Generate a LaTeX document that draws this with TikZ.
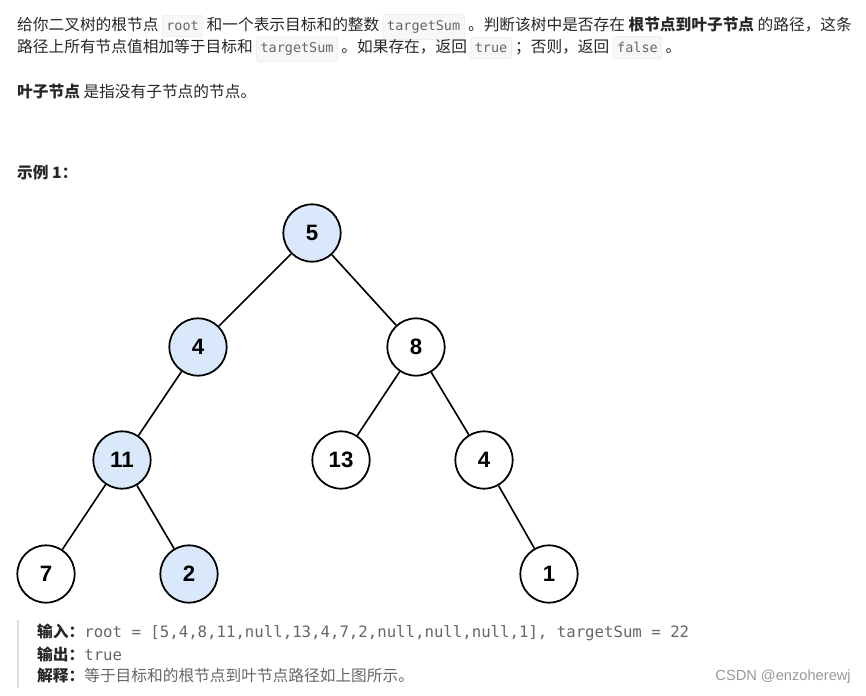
\documentclass[tikz,border=0pt]{standalone}
\usepackage{fontspec}
\usepackage{xcolor}
\setmainfont{Noto Sans CJK SC}
\newfontfamily\numfont{Liberation Sans}
\newfontfamily\codefont{DejaVu Sans Mono}
\newfontfamily\markfont{Liberation Sans}
\usetikzlibrary{positioning}
\definecolor{NodeBlue}{RGB}{218,232,252}
\definecolor{TextDark}{RGB}{38,38,38}
\definecolor{CodeGray}{RGB}{102,102,102}
\definecolor{CodeBg}{RGB}{247,247,247}
\definecolor{CodeLine}{RGB}{230,230,230}
\definecolor{QuoteBar}{RGB}{221,221,221}
\definecolor{MarkGray}{RGB}{153,153,153}
\tikzset{
  tnode/.style = {circle, draw, line width=1.5pt, minimum size=1.72cm, inner sep=0pt,
                  font=\numfont\bfseries\fontsize{19}{19}\selectfont},
  hl/.style    = {fill=NodeBlue},
  edge/.style  = {line width=1.4pt},
  para/.style  = {anchor=west, inner sep=0pt, text=TextDark,
                  font=\fontsize{13.4}{15}\selectfont}
}
\newcommand{\codebox}[1]{\tikz[baseline=(cb.base)]\node[draw=CodeLine, fill=CodeBg,
  rounded corners=2pt, inner xsep=3.5pt, inner ysep=5pt, text=CodeGray,
  font=\codefont\fontsize{11.5}{12}\selectfont] (cb) {#1};}

\begin{document}
\begin{tikzpicture}[x=0.03cm, y=-0.03cm]
\useasboundingbox (0,0) rectangle (866,695);
% problem text
\node[para] (l1) at (17,27) {给你二叉树的根节点 \codebox{root} 和一个表示目标和的整数 \codebox{targetSum} 。判断该树中是否存在 \textbf{根节点到叶子节点} 的路径，这条};
\node[para] (l2) at (17,49) {路径上所有节点值相加等于目标和 \codebox{targetSum} 。如果存在，返回 \codebox{true} ；否则，返回 \codebox{false} 。};
\node[para] (l3) at (17,92) {\textbf{叶子节点} 是指没有子节点的节点。};
\node[para] (ex) at (17,173) {\textbf{示例 1：}};
% tree
\node[tnode,hl] (n5)  at (312,233) {5};
\node[tnode,hl] (n4)  at (198,347) {4};
\node[tnode]    (n8)  at (416,347) {8};
\node[tnode,hl] (n11) at (122,460) {11};
\node[tnode]    (n13) at (341,460) {13};
\node[tnode]    (n4r) at (484,460) {4};
\node[tnode]    (n7)  at (46,574)  {7};
\node[tnode,hl] (n2)  at (189,574) {2};
\node[tnode]    (n1)  at (549,574) {1};
\draw[edge] (n5) -- (n4);
\draw[edge] (n5) -- (n8);
\draw[edge] (n4) -- (n11);
\draw[edge] (n8) -- (n13);
\draw[edge] (n8) -- (n4r);
\draw[edge] (n11) -- (n7);
\draw[edge] (n11) -- (n2);
\draw[edge] (n4r) -- (n1);
% example block
\draw[QuoteBar, line width=1.5pt] (18,620) -- (18,688);
\node[para] (in)  at (37,632) {\textbf{输入：}{\codefont\fontsize{13.4}{15}\selectfont\color{CodeGray}root = [5,4,8,11,null,13,4,7,2,null,null,null,1], targetSum = 22}};
\node[para] (out) at (37,654) {\textbf{输出：}{\codefont\fontsize{13.4}{15}\selectfont\color{CodeGray}true}};
\node[para] (why) at (37,676) {\textbf{解释：}{\color{CodeGray}等于目标和的根节点到叶节点路径如上图所示。}};
\node[anchor=east, inner sep=0pt, text=MarkGray, font=\markfont\fontsize{12.5}{14}\selectfont] (wm) at (851,677) {CSDN @enzoherewj};
\end{tikzpicture}
\end{document}
